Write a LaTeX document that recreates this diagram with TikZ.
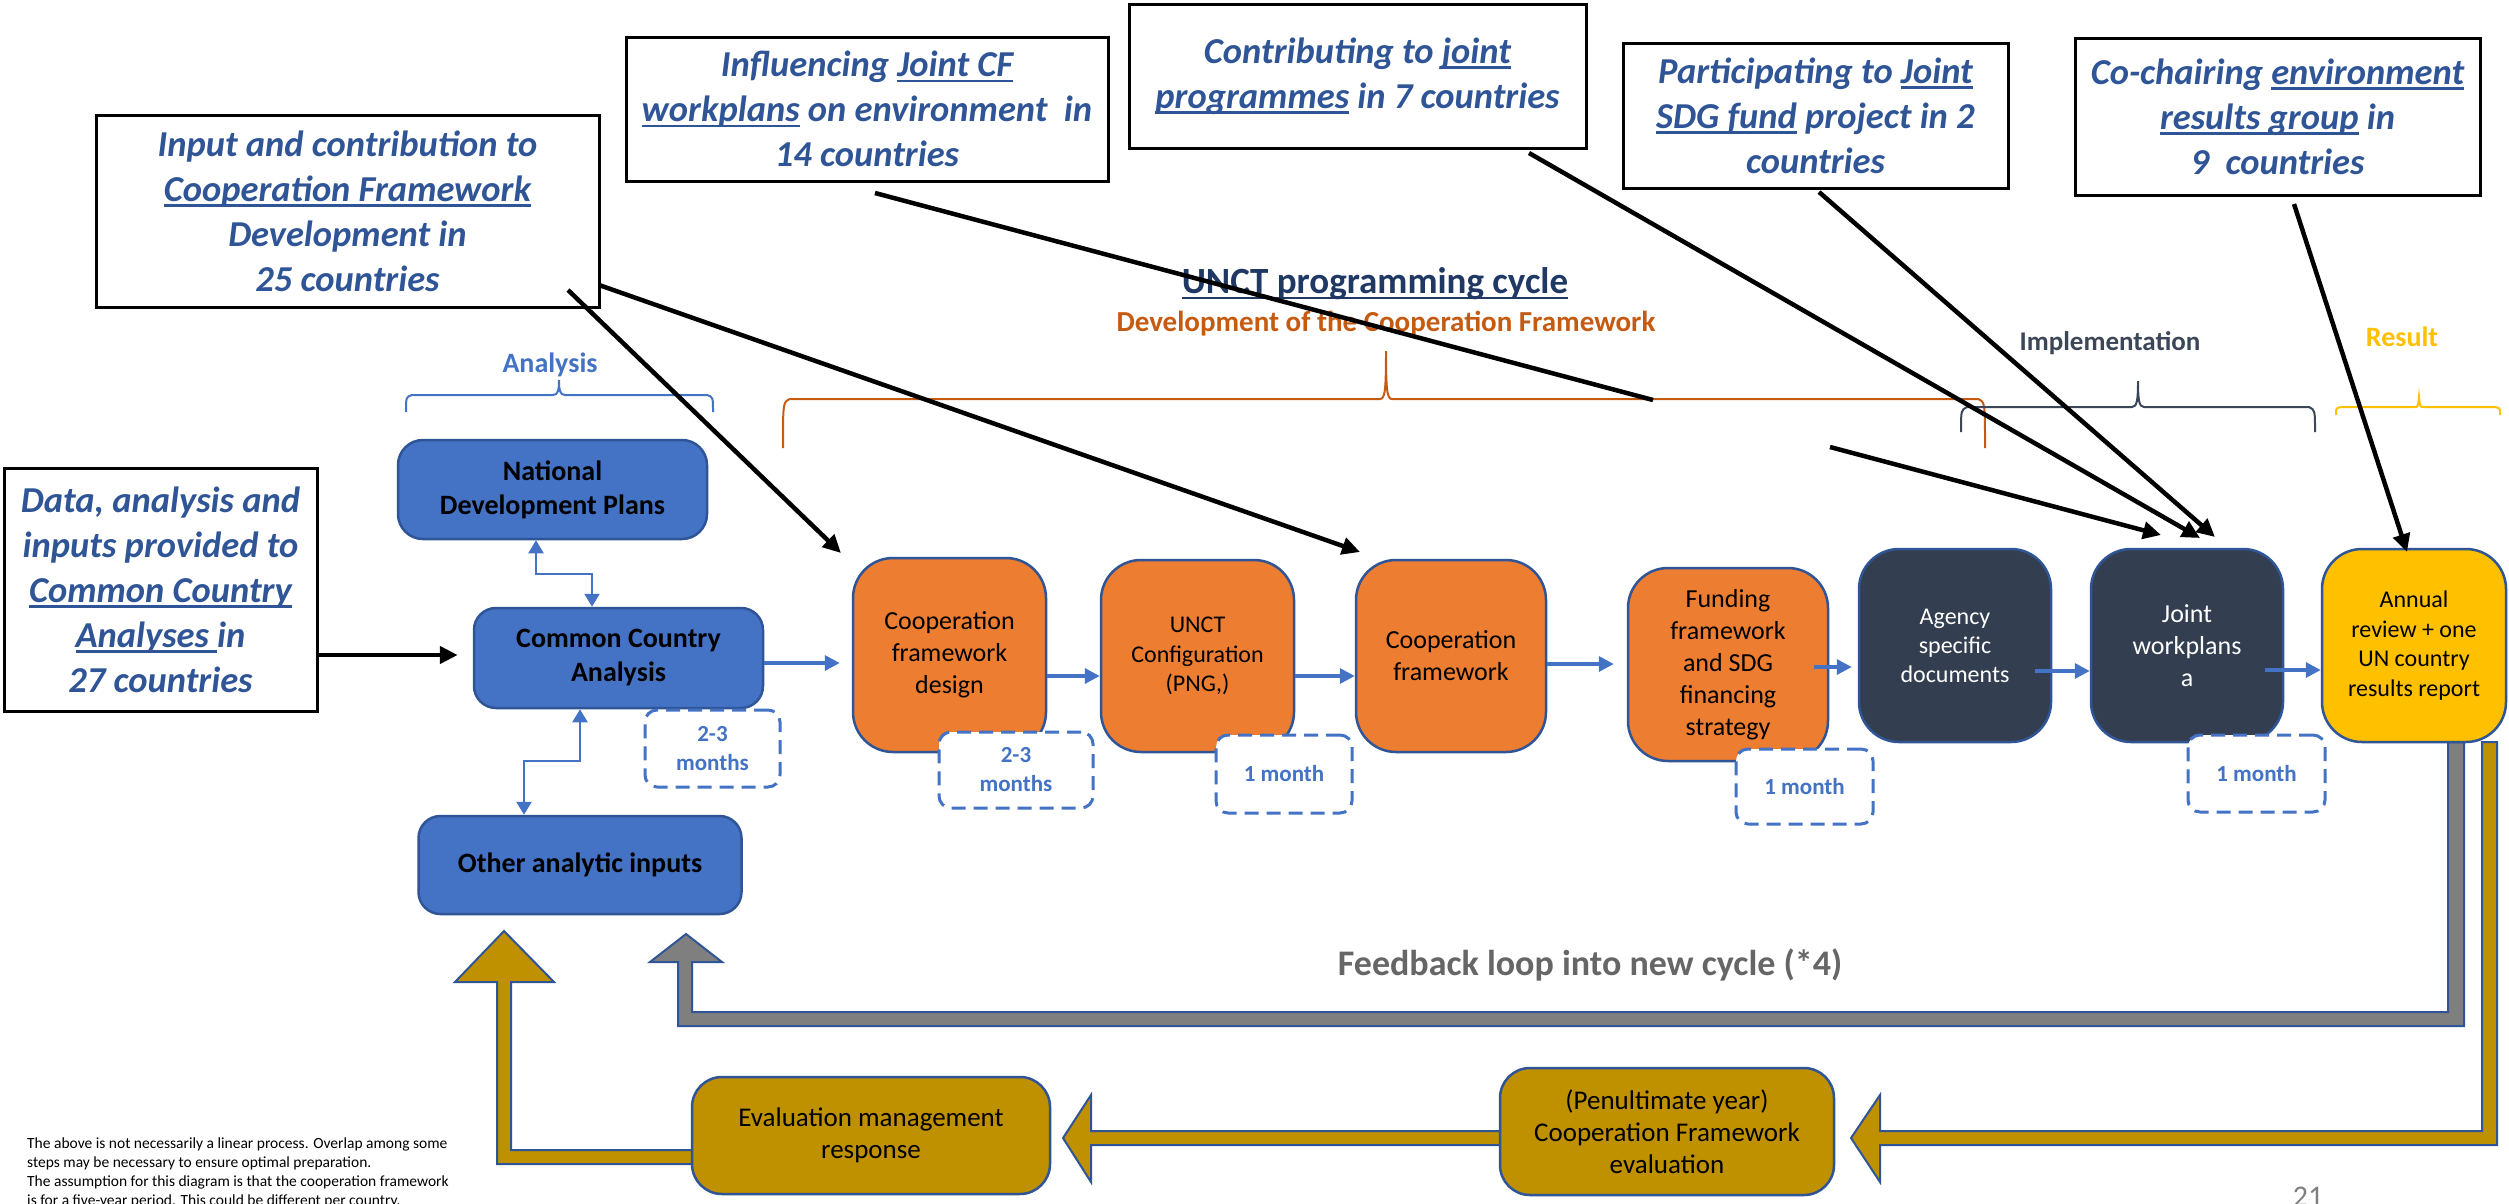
\documentclass[tikz,border=0pt]{standalone}
\usepackage{fontspec}
\setmainfont{Carlito}
\usetikzlibrary{arrows.meta}
\definecolor{bluebox}{HTML}{4472C4}
\definecolor{bordc}{HTML}{2F5597}
\definecolor{orangebox}{HTML}{ED7D31}
\definecolor{darkbox}{HTML}{333F50}
\definecolor{yellowbox}{HTML}{FFC000}
\definecolor{goldc}{HTML}{BF9000}
\definecolor{grayc}{HTML}{7F7F7F}
\definecolor{calloutc}{HTML}{2F5597}
\definecolor{navyc}{HTML}{203864}
\definecolor{devc}{HTML}{C55A11}
\definecolor{implc}{HTML}{3B4656}
\definecolor{fbc}{HTML}{666666}
\newcommand\myul[1]{\setbox0\hbox{#1}\rlap{\rule[-0.15em]{\wd0}{0.065em}}\box0\relax}
\begin{document}
\begin{tikzpicture}[x=1pt,y=-1pt,
  bbox/.style={fill=bluebox, draw=bordc, line width=2.5pt, align=center, inner sep=0pt, text=black, font=\bfseries\fontsize{28}{34}\selectfont},
  obox/.style={fill=orangebox, draw=bordc, line width=2.5pt, align=center, inner sep=0pt, text=black, rounded corners=40pt, font=\fontsize{26}{32}\selectfont},
  nbox/.style={fill=darkbox, draw=bordc, line width=2.5pt, align=center, inner sep=0pt, text=white, rounded corners=40pt, font=\fontsize{26}{32}\selectfont},
  ybox/.style={fill=yellowbox, draw=bordc, line width=2.5pt, align=center, inner sep=0pt, text=black, rounded corners=40pt, font=\fontsize{24}{29.5}\selectfont},
  gbox/.style={fill=goldc, draw=bordc, line width=2.5pt, align=center, inner sep=0pt, text=black, rounded corners=30pt, font=\fontsize{27}{32}\selectfont},
  dbox/.style={fill=white, draw=bluebox, line width=3pt, dash pattern=on 14pt off 8pt, rounded corners=12pt, align=center, inner sep=0pt, text=bluebox, font=\bfseries\fontsize{23}{29}\selectfont},
  cbox/.style={fill=white, draw=black, line width=3pt, align=center, inner sep=0pt, text=calloutc, font=\bfseries\itshape\fontsize{36.5}{45}\selectfont},
  barrow/.style={draw=bluebox, line width=3.5pt, -{Triangle[length=15pt,width=15pt]}},
  dbarrow/.style={draw=bluebox, line width=2.5pt, {Triangle[length=13pt,width=15pt]}-{Triangle[length=13pt,width=15pt]}},
  blkarrow/.style={draw=black, line width=4.5pt, -{Triangle[length=18pt,width=17pt]}},
  blkline/.style={draw=black, line width=4.5pt},
  fbshape/.style={draw=bordc, line width=2pt},
  bracec/.style={line width=2pt}
]
\useasboundingbox (0,0) rectangle (2509,1203);
\fill[white] (0,0) rectangle (2509,1203);

% feedback loops (behind boxes)
\path[fbshape, fill=grayc] (686,934) -- (722,962) -- (692,962) -- (692,1012) -- (2448,1012) -- (2448,742) -- (2464,742) -- (2464,1026) -- (678,1026) -- (678,962) -- (650,962) -- cycle;
\path[fbshape, fill=goldc] (2482,742) -- (2497,742) -- (2497,1145) -- (1880,1145) -- (1880,1182) -- (1851,1138) -- (1880,1095) -- (1880,1131) -- (2482,1131) -- cycle;
\path[fbshape, fill=goldc] (1510,1131) -- (1091,1131) -- (1091,1095) -- (1063,1138) -- (1091,1182) -- (1091,1145) -- (1510,1145) -- cycle;
\path[fbshape, fill=goldc] (700,1150) -- (511,1150) -- (511,982) -- (554,982) -- (504,931) -- (455,982) -- (497,982) -- (497,1164) -- (700,1164) -- cycle;

% headings
\node[text=navyc, font=\bfseries\fontsize{37}{44}\selectfont, inner sep=0pt] (title) at (1375,284) {\myul{UNCT programming cycle}};
\node[text=devc, font=\bfseries\fontsize{29}{35}\selectfont, inner sep=0pt] (devlab) at (1386,324) {Development of the Cooperation Framework};
\node[text=implc, font=\bfseries\fontsize{27}{33}\selectfont, inner sep=0pt] (impllab) at (2110,343) {Implementation};
\node[text=yellowbox, font=\bfseries\fontsize{28}{34}\selectfont, inner sep=0pt] (reslab) at (2402,337) {Result};
\node[text=bluebox, font=\bfseries\fontsize{28}{34}\selectfont, inner sep=0pt] (analab) at (550,365) {Analysis};

% braces
\draw[bracec, bluebox] (406,412) .. controls (406,397) .. (412,395) -- (553,395) .. controls (558,395) and (559,390) .. (559,380) .. controls (559,390) and (560,395) .. (565,395) -- (707,395) .. controls (713,397) .. (713,412);
\draw[bracec, devc] (783,448) .. controls (783,402) .. (790,399) -- (1380,399) .. controls (1385,399) and (1386,390) .. (1386,351) .. controls (1386,390) and (1387,399) .. (1392,399) -- (1978,399) .. controls (1985,402) .. (1985,448);
\draw[bracec, implc] (1961,432) .. controls (1961,410) .. (1967,407) -- (2132,407) .. controls (2137,407) and (2138,400) .. (2138,381) .. controls (2138,400) and (2139,407) .. (2144,407) -- (2309,407) .. controls (2315,410) .. (2315,432);
\draw[bracec, yellowbox] (2336,415) .. controls (2336,408) .. (2341,407) -- (2414,407) .. controls (2418,407) .. (2419,397) .. controls (2420,407) .. (2424,407) -- (2495,407) .. controls (2500,408) .. (2500,415);

% feedback label
\node[text=fbc, font=\bfseries\fontsize{36}{42}\selectfont, inner sep=0pt] (fblab) at (1590,965) {Feedback loop into new cycle (*4)};

% analysis boxes
\node[bbox, minimum width=309pt, minimum height=99pt, rounded corners=25pt] (ndp) at (552.5,489.5) {National\\Development Plans};
\node[bbox, minimum width=289pt, minimum height=100pt, rounded corners=22pt] (cca) at (618.5,658) {Common Country\\Analysis};
\node[bbox, minimum width=323pt, minimum height=98pt, rounded corners=22pt] (oth) at (580,865) {Other analytic inputs};

% process boxes
\node[obox, minimum width=193pt, minimum height=194pt] (cfd) at (949.5,655) {Cooperation\\framework\\design};
\node[obox, minimum width=193pt, minimum height=192pt, font=\fontsize{24}{29.5}\selectfont] (unct) at (1197.5,656) {UNCT\\Configuration\\(PNG,)};
\node[obox, minimum width=190pt, minimum height=192pt] (cf) at (1451,656) {Cooperation\\framework};
\node[obox, minimum width=200pt, minimum height=193pt] (fund) at (1728,664.5) {Funding\\framework\\and SDG\\financing\\strategy};
\node[nbox, minimum width=192pt, minimum height=193pt, font=\fontsize{24}{29}\selectfont] (agency) at (1955,645.5) {Agency\\specific\\documents};
\node[nbox, minimum width=192pt, minimum height=193pt] (joint) at (2187,645.5) {Joint\\workplans\\a};
\node[ybox, minimum width=184pt, minimum height=193pt] (annual) at (2414,645.5) {Annual\\review + one\\UN country\\results report};

% evaluation boxes
\node[gbox, minimum width=358pt, minimum height=117pt] (evalm) at (871,1135.5) {Evaluation management\\response};
\node[gbox, minimum width=334pt, minimum height=127pt] (penult) at (1667,1131.5) {(Penultimate year)\\Cooperation Framework\\evaluation};

% duration boxes
\node[dbox, minimum width=135pt, minimum height=77pt] (d1) at (712.5,748.5) {2-3\\months};
\node[dbox, minimum width=154pt, minimum height=76pt] (d2) at (1016,770) {2-3\\months};
\node[dbox, minimum width=136pt, minimum height=78pt] (d3) at (1284,774) {1 month};
\node[dbox, minimum width=137pt, minimum height=75pt] (d4) at (1804.5,786.5) {1 month};
\node[dbox, minimum width=137pt, minimum height=77pt] (d5) at (2256.5,773.5) {1 month};

% blue arrows
\draw[barrow, shorten >=12pt] (cca.east |- 0,663) -- (cfd.west |- 0,663);
\draw[barrow] (cfd.east |- 0,676) -- (unct.west |- 0,676);
\draw[barrow] (unct.east |- 0,676) -- (cf.west |- 0,676);
\draw[barrow, shorten >=13pt] (cf.east |- 0,664) -- (fund.west |- 0,664);
\draw[barrow, shorten <=-15pt, shorten >=6pt] (fund.east |- 0,667) -- (agency.west |- 0,667);
\draw[barrow, shorten <=-17pt] (agency.east |- 0,671) -- (joint.west |- 0,671);
\draw[barrow, shorten <=-19pt] (joint.east |- 0,670) -- (annual.west |- 0,670);
\coordinate (ndpA) at (536,574);
\coordinate (ndpB) at (592,574);
\draw[dbarrow] (ndp.south -| ndpA) -- (ndpA) -- (ndpB) -- (cca.north -| ndpB);
\coordinate (othA) at (580,761);
\coordinate (othB) at (524,761);
\draw[dbarrow] (cca.south -| othA) -- (othA) -- (othB) -- (oth.north -| othB);

% callout boxes
\node[cbox, minimum width=503pt, minimum height=192pt] (b1) at (347.5,211) {Input and contribution to\\\myul{Cooperation Framework}\\Development in\\25 countries};
\node[cbox, minimum width=482pt, minimum height=144pt] (b2) at (867,109) {Influencing \myul{Joint CF}\\\myul{workplans} on environment\ \ in\\14 countries};
\node[cbox, minimum width=457pt, minimum height=144pt] (b3) at (1357.5,76) {Contributing to \myul{joint}\\\myul{programmes} in 7 countries};
\node[cbox, minimum width=385pt, minimum height=145pt] (b4) at (1815.5,115.5) {Participating to \myul{Joint}\\\myul{SDG fund} project in 2\\countries};
\node[cbox, minimum width=405pt, minimum height=157pt] (b5) at (2277.5,116.5) {Co-chairing \myul{environment}\\\myul{results group} in\\9\ \ countries};
\node[cbox, minimum width=313pt, minimum height=243pt] (b6) at (160.5,589.5) {Data, analysis and\\inputs provided to\\\myul{Common Country}\\\myul{Analyses }in\\27 countries};

% black connectors
\coordinate (b1a) at (568,290);
\coordinate (b1b) at (599,285);
\coordinate (tcfd) at (841,553);
\coordinate (tcf) at (1360,552);
\coordinate (b2s) at (875,193);
\coordinate (b2g1) at (1653,400);
\coordinate (b2g2) at (1830,447);
\coordinate (tj1) at (2161,535);
\coordinate (b3s) at (1529,153);
\coordinate (tj2) at (2200,538);
\coordinate (b4s) at (1819,192);
\coordinate (tj3) at (2215,537);
\coordinate (b5s) at (2294,204);
\coordinate (tan) at (2407,552);
\draw[blkarrow, shorten >=15pt] (b6.east |- 0,655) -- (cca.west |- 0,655);
\draw[blkarrow] (b1a) -- (tcfd);
\draw[blkarrow] (b1b) -- (tcf);
\draw[blkline] (b2s) -- (b2g1);
\draw[blkarrow] (b2g2) -- (tj1);
\draw[blkarrow] (b3s) -- (tj2);
\draw[blkarrow] (b4s) -- (tj3);
\draw[blkarrow] (b5s) -- (tan);

% footnote and page number
\node[anchor=north west, align=left, inner sep=0pt, font=\fontsize{15.5}{19}\selectfont] (foot) at (27,1138) {The above is not necessarily a linear process. Overlap among some\\steps may be necessary to ensure optimal preparation.\\The assumption for this diagram is that the cooperation framework\\is for a five-year period. This could be different per country.};
\node[anchor=north, inner sep=0pt, text=grayc, font=\fontsize{30}{36}\selectfont] (pgno) at (2308,1187) {21};
\end{tikzpicture}
\end{document}
